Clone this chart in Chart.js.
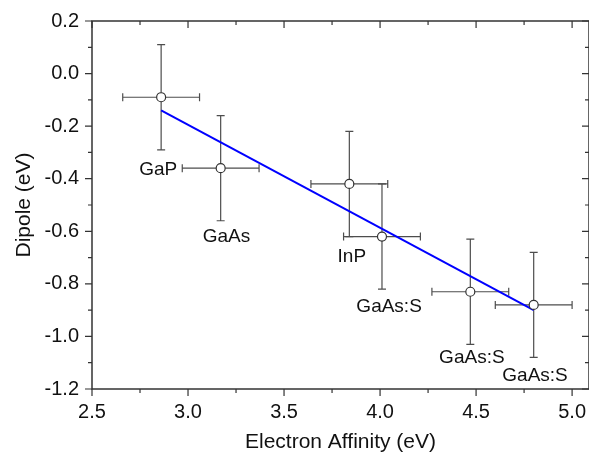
<!DOCTYPE html>
<html>
<head>
<meta charset="utf-8">
<script src="https://cdn.jsdelivr.net/npm/chart.js@4"></script>
<style>
  html, body { margin: 0; padding: 0; background: #fff; overflow: hidden; }
  canvas { display: block; }
</style>
</head>
<body>
<canvas id="dipole-chart" width="589" height="455"></canvas>
<script>
const Chart = window.Chart;

// data
const materials = ['GaP', 'GaAs', 'InP', 'GaAs:S', 'GaAs:S', 'GaAs:S'];
const affinity = [2.86, 3.17, 3.84, 4.01, 4.47, 4.80];
const dipole = [-0.09, -0.36, -0.42, -0.62, -0.83, -0.88];
const affinityErr = [0.2, 0.2, 0.2, 0.2, 0.2, 0.2];
const dipoleErr = [0.2, 0.2, 0.2, 0.2, 0.2, 0.2];

// linear fit line end points
const fitX = [2.86, 4.80];
const fitY = [-0.14, -0.90];

// where each material label sits (data units, text centre)
const labelX = [2.845, 3.20, 3.853, 4.047, 4.478, 4.807];
const labelY = [-0.365, -0.62, -0.696, -0.886, -1.08, -1.149];

const xTicks = [2.5, 3.0, 3.5, 4.0, 4.5, 5.0];
const yTicks = [-1.2, -1.0, -0.8, -0.6, -0.4, -0.2, 0.0, 0.2];

const FONT = "'Liberation Sans', Arial, sans-serif";
const AXIS = '#333';
const ERR = '#4d4d4d';

//error bars go under the markers
const errorBars = {
    id: 'errorBars',
    beforeDatasetsDraw(chart) {
        const ctx = chart.ctx;
        const xs = chart.scales.x, ys = chart.scales.y;
        const cap = 4;
        ctx.save();
        ctx.strokeStyle = ERR;
        ctx.lineWidth = 1.2;
        affinity.forEach((x, i) => {
            const px = xs.getPixelForValue(x);
            const py = ys.getPixelForValue(dipole[i]);
            const x0 = xs.getPixelForValue(x - affinityErr[i]);
            const x1 = xs.getPixelForValue(x + affinityErr[i]);
            const y0 = ys.getPixelForValue(dipole[i] + dipoleErr[i]);
            const y1 = ys.getPixelForValue(dipole[i] - dipoleErr[i]);
            ctx.beginPath();
            ctx.moveTo(x0, py); ctx.lineTo(x1, py);
            ctx.moveTo(x0, py - cap); ctx.lineTo(x0, py + cap);
            ctx.moveTo(x1, py - cap); ctx.lineTo(x1, py + cap);
            ctx.moveTo(px, y0); ctx.lineTo(px, y1);
            ctx.moveTo(px - cap, y0); ctx.lineTo(px + cap, y0);
            ctx.moveTo(px - cap, y1); ctx.lineTo(px + cap, y1);
            ctx.stroke();
        });
        ctx.restore();
    }
};

//frame, tick marks and material labels
const frameAndLabels = {
    id: 'frameAndLabels',
    afterDraw(chart) {
        const ctx = chart.ctx;
        const {left, right, top, bottom} = chart.chartArea;
        const xs = chart.scales.x, ys = chart.scales.y;
        ctx.save();
        ctx.strokeStyle = AXIS;
        ctx.lineWidth = 1.5;
        ctx.strokeRect(left, top, right - left, bottom - top);

        ctx.lineWidth = 1.2;
        ctx.beginPath();
        for (let i = 0; i < xTicks.length; i++) {
            const px = xs.getPixelForValue(xTicks[i]);
            ctx.moveTo(px, bottom); ctx.lineTo(px, bottom + 7);
            ctx.moveTo(px, top); ctx.lineTo(px, top + 7);
            if (i < xTicks.length - 1) {
                const mx = xs.getPixelForValue((xTicks[i] + xTicks[i + 1]) / 2);
                ctx.moveTo(mx, bottom); ctx.lineTo(mx, bottom + 4);
                ctx.moveTo(mx, top); ctx.lineTo(mx, top + 4);
            }
        }
        for (let i = 0; i < yTicks.length; i++) {
            const py = ys.getPixelForValue(yTicks[i]);
            ctx.moveTo(left, py); ctx.lineTo(left - 7, py);
            ctx.moveTo(right, py); ctx.lineTo(right - 7, py);
            if (i < yTicks.length - 1) {
                const my = ys.getPixelForValue((yTicks[i] + yTicks[i + 1]) / 2);
                ctx.moveTo(left, my); ctx.lineTo(left - 4, my);
                ctx.moveTo(right, my); ctx.lineTo(right - 4, my);
            }
        }
        ctx.stroke();

        ctx.fillStyle = '#111';
        ctx.font = '19px ' + FONT;
        ctx.textAlign = 'center';
        ctx.textBaseline = 'middle';
        materials.forEach((name, i) => {
            ctx.fillText(name, xs.getPixelForValue(labelX[i]), ys.getPixelForValue(labelY[i]));
        });
        ctx.restore();
    }
};

const canvas = document.getElementById('dipole-chart');

const dipoleChart = new Chart(canvas, {
    type: 'scatter',
    data: {
        datasets: [
            {
                type: 'line',
                data: fitX.map((x, i) => ({x: x, y: fitY[i]})),
                borderColor: '#0000ff',
                borderWidth: 2,
                pointRadius: 0,
                fill: false,
                order: 2
            },
            {
                type: 'scatter',
                data: affinity.map((x, i) => ({x: x, y: dipole[i]})),
                pointRadius: 4.5,
                pointBackgroundColor: '#fff',
                pointBorderColor: '#333',
                pointBorderWidth: 1.2,
                order: 1
            }
        ]
    },
    options: {
        responsive: false,
        animation: false,
        layout: {autoPadding: false, padding: {top: 21, right: 0, left: 0, bottom: 0}},
        plugins: {
            legend: {display: false},
            tooltip: {enabled: false}
        },
        scales: {
            x: {
                type: 'linear',
                min: 2.5,
                max: 5.088,
                afterFit: s => { s.height = 66; s.paddingLeft = 0; s.paddingRight = 0; },
                grid: {display: false, drawTicks: false},
                border: {display: false},
                ticks: {
                    stepSize: 0.5,
                    includeBounds: false,
                    padding: 11,
                    color: '#111',
                    font: {family: FONT, size: 20},
                    callback: v => v.toFixed(1)
                },
                title: {
                    display: true,
                    text: 'Electron Affinity (eV)',
                    color: '#111',
                    font: {family: FONT, size: 21},
                    padding: {top: 0, bottom: 0}
                }
            },
            y: {
                type: 'linear',
                min: -1.2,
                max: 0.2,
                afterFit: s => { s.width = 92; s.paddingTop = 0; s.paddingBottom = 0; },
                grid: {display: false, drawTicks: false},
                border: {display: false},
                ticks: {
                    stepSize: 0.2,
                    padding: 13,
                    color: '#111',
                    font: {family: FONT, size: 20},
                    callback: v => Math.abs(v) < 1e-9 ? '0.0' : v.toFixed(1)
                },
                title: {
                    display: true,
                    text: 'Dipole (eV)',
                    color: '#111',
                    font: {family: FONT, size: 21},
                    padding: {top: 12, bottom: 0}
                }
            }
        }
    },
    plugins: [errorBars, frameAndLabels]
});
</script>
</body>
</html>
